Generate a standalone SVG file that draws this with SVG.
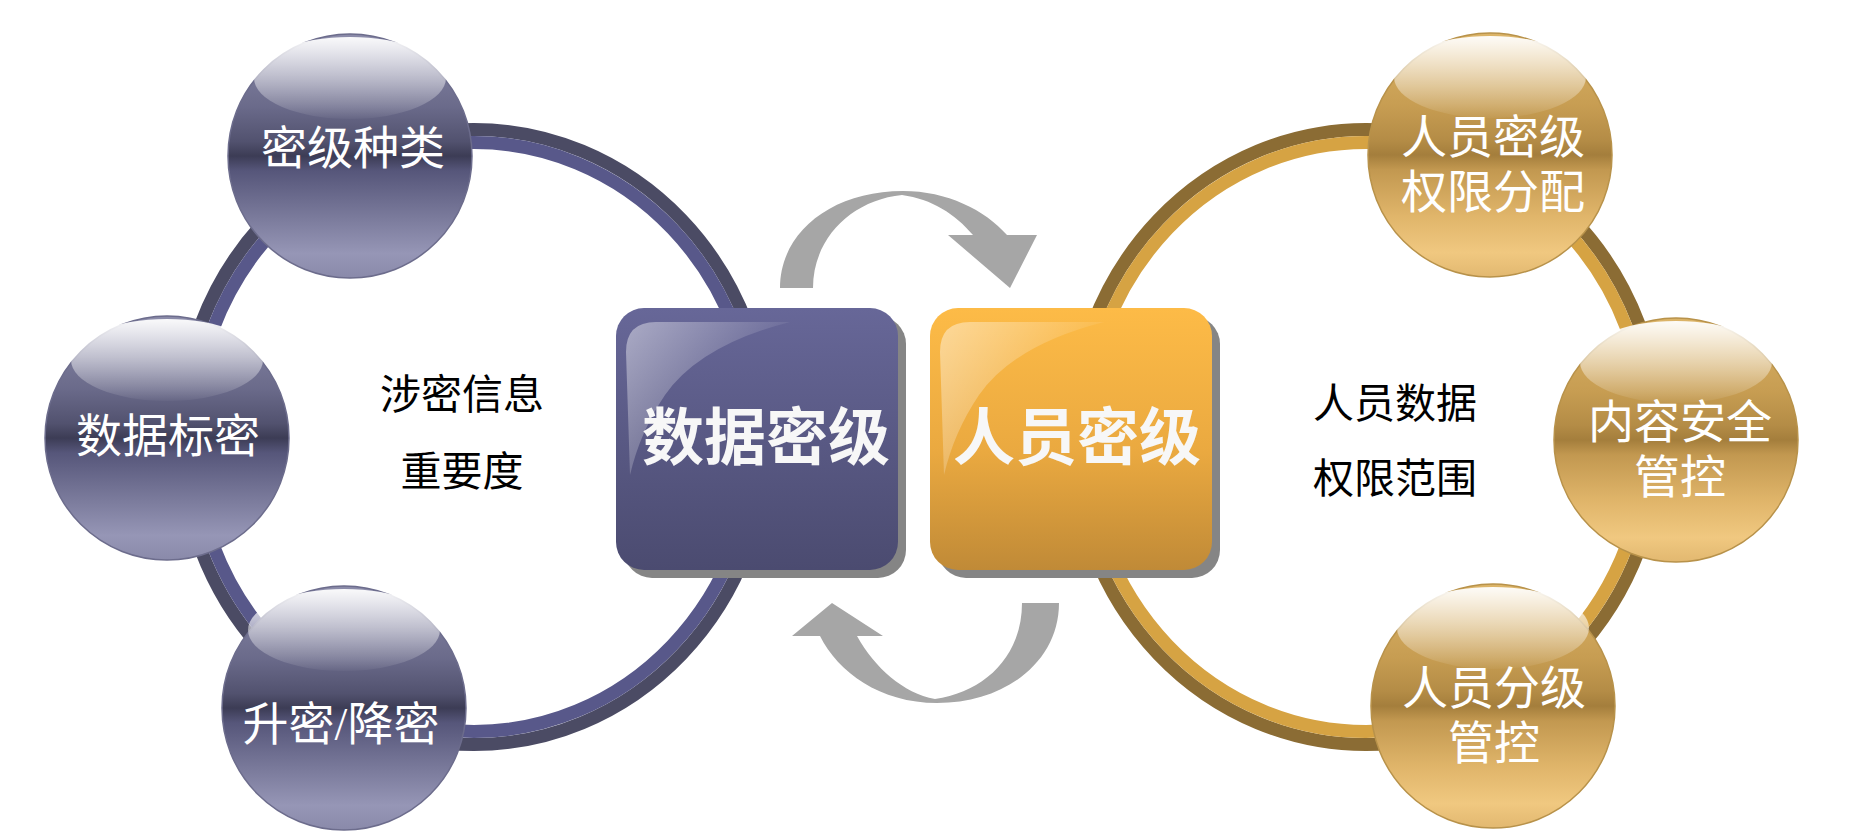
<svg xmlns="http://www.w3.org/2000/svg" width="1866" height="839" viewBox="0 0 1866 839">
<style>
.ct{font-family:"Liberation Serif","Noto Sans CJK SC",serif;font-size:46px;fill:#ffffff;text-anchor:middle;dominant-baseline:central}
.mt{font-family:"Liberation Serif","Noto Sans CJK SC",serif;font-size:41px;fill:#000000;text-anchor:middle;dominant-baseline:central}
.bt{font-family:"Liberation Serif","Noto Sans CJK SC",serif;font-size:62px;font-weight:bold;fill:#f7f7f7;text-anchor:middle;dominant-baseline:central}
.sp{fill:url(#sphereP);stroke:#6c6c8c;stroke-width:1.5}
.so{fill:url(#sphereO);stroke:#b8924a;stroke-width:1.5}
.hl{fill:url(#hlW)}
.arr{fill:#a6a6a6}
.shadow{fill:#858585}
</style>
<defs>
<linearGradient id="sphereP" x1="0" y1="0" x2="0" y2="1">
<stop offset="0" stop-color="#8c8caa"/>
<stop offset="0.3" stop-color="#6a6a8a"/>
<stop offset="0.44" stop-color="#52526f"/>
<stop offset="0.5" stop-color="#3c3c55"/>
<stop offset="0.56" stop-color="#56567a"/>
<stop offset="0.75" stop-color="#7a7a9b"/>
<stop offset="0.9" stop-color="#9696b6"/>
<stop offset="1" stop-color="#8a8aaa"/>
</linearGradient>
<linearGradient id="sphereO" x1="0" y1="0" x2="0" y2="1">
<stop offset="0" stop-color="#dcb468"/>
<stop offset="0.3" stop-color="#c79d52"/>
<stop offset="0.44" stop-color="#b48c46"/>
<stop offset="0.5" stop-color="#a47e3c"/>
<stop offset="0.56" stop-color="#c29850"/>
<stop offset="0.75" stop-color="#e0b56a"/>
<stop offset="0.9" stop-color="#f0c880"/>
<stop offset="1" stop-color="#e2b870"/>
</linearGradient>
<linearGradient id="hlW" x1="0" y1="0" x2="0" y2="1">
<stop offset="0" stop-color="#ffffff" stop-opacity="0.95"/>
<stop offset="0.5" stop-color="#ffffff" stop-opacity="0.5"/>
<stop offset="1" stop-color="#ffffff" stop-opacity="0.03"/>
</linearGradient>
<linearGradient id="boxP" x1="0" y1="0" x2="0" y2="1">
<stop offset="0" stop-color="#676798"/>
<stop offset="1" stop-color="#4b4b70"/>
</linearGradient>
<linearGradient id="boxO" x1="0" y1="0" x2="0" y2="1">
<stop offset="0" stop-color="#fdbb47"/>
<stop offset="0.55" stop-color="#eaa940"/>
<stop offset="1" stop-color="#c08a37"/>
</linearGradient>
<linearGradient id="gloss" x1="0" y1="0" x2="1" y2="0.6">
<stop offset="0" stop-color="#ffffff" stop-opacity="0.45"/>
<stop offset="0.7" stop-color="#ffffff" stop-opacity="0.08"/>
<stop offset="1" stop-color="#ffffff" stop-opacity="0"/>
</linearGradient>
</defs>
<rect width="1866" height="839" fill="#ffffff"/>

<g id="connectors">
<!-- left ring -->
<ellipse cx="474" cy="437" rx="293.5" ry="307.5" fill="none" stroke="#4b4b64" stroke-width="13"/>
<ellipse cx="474" cy="437" rx="280.5" ry="294.5" fill="none" stroke="#58588a" stroke-width="13"/>
<!-- right ring -->
<ellipse cx="1366" cy="437" rx="293.5" ry="307.5" fill="none" stroke="#8b6c34" stroke-width="13"/>
<ellipse cx="1366" cy="437" rx="280.5" ry="294.5" fill="none" stroke="#d6a343" stroke-width="13"/>
<!-- top curved arrow -->
<path class="arr" d="M780,288 C780,232 832,191 903,191 C947,191 985,210 1007,235 L1037,235 L1010,288 L948,235 L973,235 C955,214 932,199 902,195 C852,200 813,238 813,288 Z"/>
<!-- bottom curved arrow -->
<path class="arr" d="M1059,603 C1059,662 1005,703 937,703 C880,703 838,672 820,636 L792,636 L832,603 L883,636 L857,636 C875,668 903,693 935,699 C985,692 1022,656 1022,603 Z"/>
</g>

<g id="box-data">
<rect class="shadow" x="624" y="316" width="282" height="262" rx="28"/>
<rect x="616" y="308" width="282" height="262" rx="28" fill="url(#boxP)"/>
<path d="M626,352 Q626,322 656,322 L790,322 Q700,345 665,395 Q640,432 630,475 Z" fill="url(#gloss)"/>
<text class="bt" x="766" y="439">数据密级</text>
</g>

<g id="box-person">
<rect class="shadow" x="938" y="316" width="282" height="262" rx="28"/>
<rect x="930" y="308" width="282" height="262" rx="28" fill="url(#boxO)"/>
<path d="M940,352 Q940,322 970,322 L1104,322 Q1014,345 979,395 Q954,432 944,475 Z" fill="url(#gloss)"/>
<text class="bt" x="1077" y="439">人员密级</text>
</g>

<g id="node-mjzl">
<circle class="sp" cx="350" cy="156" r="122"/>
<ellipse class="hl" cx="350" cy="78" rx="96" ry="41"/>
<text class="ct" x="353" y="148">密级种类</text>
</g>

<g id="node-sjbm">
<circle class="sp" cx="167" cy="438" r="122"/>
<ellipse class="hl" cx="167" cy="360" rx="96" ry="41"/>
<text class="ct" x="168" y="436">数据标密</text>
</g>

<g id="node-smjm">
<circle class="sp" cx="344" cy="708" r="122"/>
<ellipse class="hl" cx="344" cy="630" rx="96" ry="41"/>
<text class="ct" x="341" y="724">升密/降密</text>
</g>

<g id="node-ryqx">
<circle class="so" cx="1490" cy="155" r="122"/>
<ellipse class="hl" cx="1490" cy="77" rx="96" ry="41"/>
<text class="ct" x="1493" y="137">人员密级</text>
<text class="ct" x="1493" y="192">权限分配</text>
</g>

<g id="node-nraq">
<circle class="so" cx="1676" cy="440" r="122"/>
<ellipse class="hl" cx="1676" cy="362" rx="96" ry="41"/>
<text class="ct" x="1680" y="422">内容安全</text>
<text class="ct" x="1680" y="477">管控</text>
</g>

<g id="node-ryfj">
<circle class="so" cx="1493" cy="706" r="122"/>
<ellipse class="hl" cx="1493" cy="628" rx="96" ry="41"/>
<text class="ct" x="1494" y="688">人员分级</text>
<text class="ct" x="1494" y="743">管控</text>
</g>

<g id="label-left">
<text class="mt" x="462" y="395">涉密信息</text>
<text class="mt" x="462" y="472">重要度</text>
</g>

<g id="label-right">
<text class="mt" x="1395" y="404">人员数据</text>
<text class="mt" x="1395" y="479">权限范围</text>
</g>
</svg>
